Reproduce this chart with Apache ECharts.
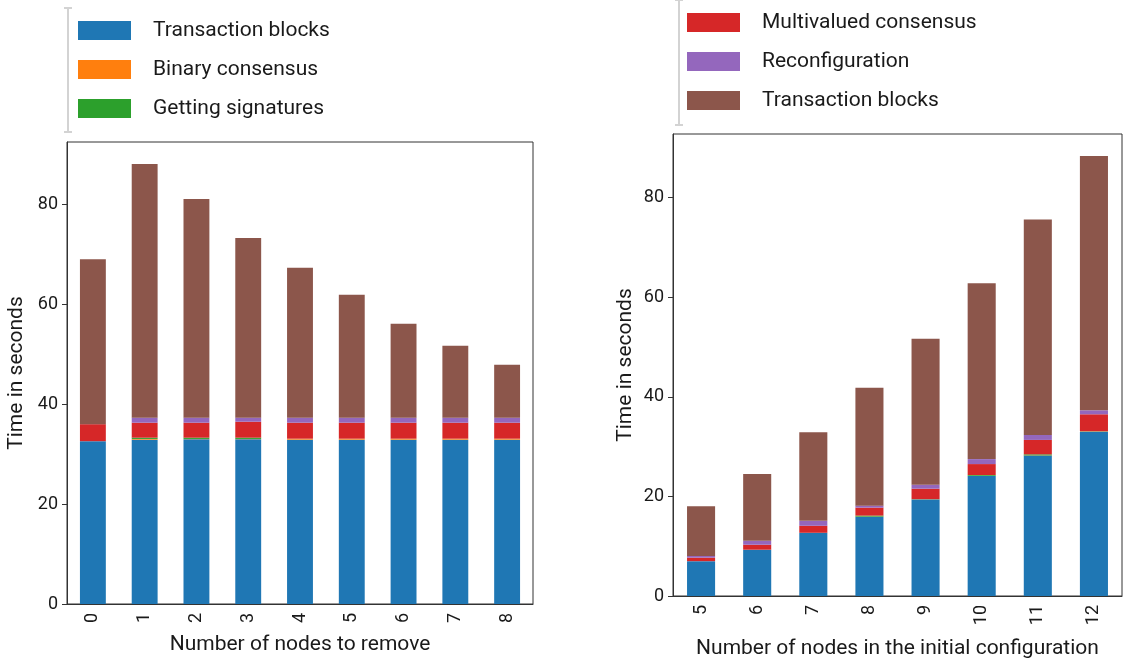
<!DOCTYPE html>
<html>
<head>
<meta charset="utf-8">
<script src="https://cdn.jsdelivr.net/npm/echarts@6/dist/echarts.min.js"></script>
<style>
  html, body { margin: 0; padding: 0; background: #fff; }
  #chart { width: 1145px; height: 664px; }
</style>
</head>
<body>
<div id="chart"></div>
<script>
// Phase timings (seconds), stacked bottom to top in this order
const seriesKeys = ['txBlocks', 'binary', 'signatures', 'multivalued', 'reconfig', 'txBlocksFinal'];
const seriesLabels = {
  txBlocks: 'Transaction blocks',
  binary: 'Binary consensus',
  signatures: 'Getting signatures',
  multivalued: 'Multivalued consensus',
  reconfig: 'Reconfiguration',
  txBlocksFinal: 'Transaction blocks'
};
const seriesColors = ['#1f77b4', '#ff7f0e', '#2ca02c', '#d62728', '#9467bd', '#8c564b'];

// Left panel: removing nodes
const removeCategories = ['0', '1', '2', '3', '4', '5', '6', '7', '8'];
const removeTxBlocks      = [32.6, 32.9, 33.0, 33.0, 32.9, 32.9, 32.9, 32.9, 32.9];
const removeBinary        = [0.0, 0.15, 0.05, 0.05, 0.2, 0.2, 0.2, 0.2, 0.2];
const removeSignatures    = [0.0, 0.25, 0.25, 0.25, 0.0, 0.0, 0.0, 0.0, 0.0];
const removeMultivalued   = [3.4, 3.0, 3.0, 3.2, 3.2, 3.2, 3.2, 3.2, 3.2];
const removeReconfig      = [0.0, 1.0, 1.0, 0.8, 1.0, 1.0, 1.0, 1.0, 1.0];
const removeTxBlocksFinal = [33.0, 50.8, 43.8, 36.0, 30.0, 24.6, 18.8, 14.4, 10.6];

// Right panel: initial configuration size
const initCategories = ['5', '6', '7', '8', '9', '10', '11', '12'];
const initTxBlocks      = [7.0, 9.3, 12.7, 15.9, 19.4, 24.1, 28.2, 33.0];
const initBinary        = [0.0, 0.0, 0.0, 0.05, 0.0, 0.05, 0.05, 0.05];
const initSignatures    = [0.0, 0.0, 0.0, 0.2, 0.05, 0.15, 0.2, 0.05];
const initMultivalued   = [0.7, 1.0, 1.4, 1.6, 2.1, 2.2, 2.9, 3.4];
const initReconfig      = [0.35, 0.8, 1.0, 0.4, 0.8, 1.0, 1.0, 0.8];
const initTxBlocksFinal = [10.0, 13.4, 17.8, 23.7, 29.3, 35.3, 43.3, 51.1];

const yTicks = [0, 20, 40, 60, 80];

const removeData = [removeTxBlocks, removeBinary, removeSignatures, removeMultivalued, removeReconfig, removeTxBlocksFinal];
const initData = [initTxBlocks, initBinary, initSignatures, initMultivalued, initReconfig, initTxBlocksFinal];

const FONT = 'Roboto';
const TEXT = '#1a1a1a';
const AXIS = '#333';

function xAxisFor(gridIndex, cats, name, nameGap) {
  return {
    type: 'category', gridIndex, data: cats,
    name, nameLocation: 'middle', nameGap,
    nameTextStyle: { fontFamily: FONT, fontSize: 21, color: TEXT },
    axisLine: { lineStyle: { color: AXIS, width: 1 } },
    axisTick: { alignWithLabel: true, length: 5, lineStyle: { color: AXIS } },
    axisLabel: { rotate: 90, margin: 9, fontFamily: FONT, fontSize: 18, color: TEXT },
    splitLine: { show: false }
  };
}
function yAxisFor(gridIndex, max, nameGap) {
  return {
    type: 'value', gridIndex, min: 0, max,
    name: 'Time in seconds', nameLocation: 'middle', nameGap,
    nameTextStyle: { fontFamily: FONT, fontSize: 21, color: TEXT },
    axisLine: { show: true, lineStyle: { color: AXIS, width: 1 } },
    axisTick: { show: true, length: 5, customValues: yTicks, lineStyle: { color: AXIS } },
    axisLabel: { customValues: yTicks, margin: 9, fontFamily: FONT, fontSize: 18, color: TEXT },
    splitLine: { show: false }
  };
}

const series = [];
[removeData, initData].forEach((block, panel) => {
  block.forEach((vals, k) => {
    series.push({
      name: seriesKeys[k], type: 'bar', stack: 'p' + panel,
      xAxisIndex: panel, yAxisIndex: panel,
      barWidth: '50%', data: vals,
      itemStyle: { color: seriesColors[k] },
      emphasis: { disabled: true }
    });
  });
});

function legendFor(keys, left, top) {
  return {
    orient: 'vertical', left, top, padding: 0,
    data: keys.map(k => ({ name: k, icon: 'rect' })),
    itemWidth: 53, itemHeight: 19, itemGap: 18,
    formatter: n => seriesLabels[n],
    textStyle: { fontFamily: FONT, fontSize: 21, color: TEXT, lineHeight: 19, padding: [0, 0, 0, 17] },
    selectedMode: false
  };
}

// light grey bracket beside each legend
function bracket(x, y0, y1) {
  const c = '#d3d3d3';
  return [
    { type: 'line', shape: { x1: x, y1: y0, x2: x, y2: y1 }, style: { stroke: c, lineWidth: 2 } },
    { type: 'line', shape: { x1: x - 4, y1: y0, x2: x + 4, y2: y0 }, style: { stroke: c, lineWidth: 2 } },
    { type: 'line', shape: { x1: x - 4, y1: y1, x2: x + 4, y2: y1 }, style: { stroke: c, lineWidth: 2 } }
  ];
}

const chart = echarts.init(document.getElementById('chart'), null, { renderer: 'canvas' });
chart.setOption({
  animation: false,
  backgroundColor: '#fff',
  grid: [
    { left: 67, top: 142, width: 466, height: 462, show: true, borderColor: AXIS, borderWidth: 1, containLabel: false },
    { left: 673, top: 134, width: 449, height: 465, show: true, borderColor: AXIS, borderWidth: 1, containLabel: false }
  ],
  xAxis: [
    xAxisFor(0, removeCategories, 'Number of nodes to remove', 30),
    xAxisFor(1, initCategories, 'Number of nodes in the initial configuration', 42)
  ],
  yAxis: [yAxisFor(0, 92.5, 40), yAxisFor(1, 92.8, 37)],
  legend: [
    legendFor(seriesKeys.slice(0, 3), 78, 20),
    legendFor(seriesKeys.slice(3), 687, 12)
  ],
  graphic: bracket(68, 8, 132).concat(bracket(679, 0, 125)),
  series
});
</script>
</body>
</html>
